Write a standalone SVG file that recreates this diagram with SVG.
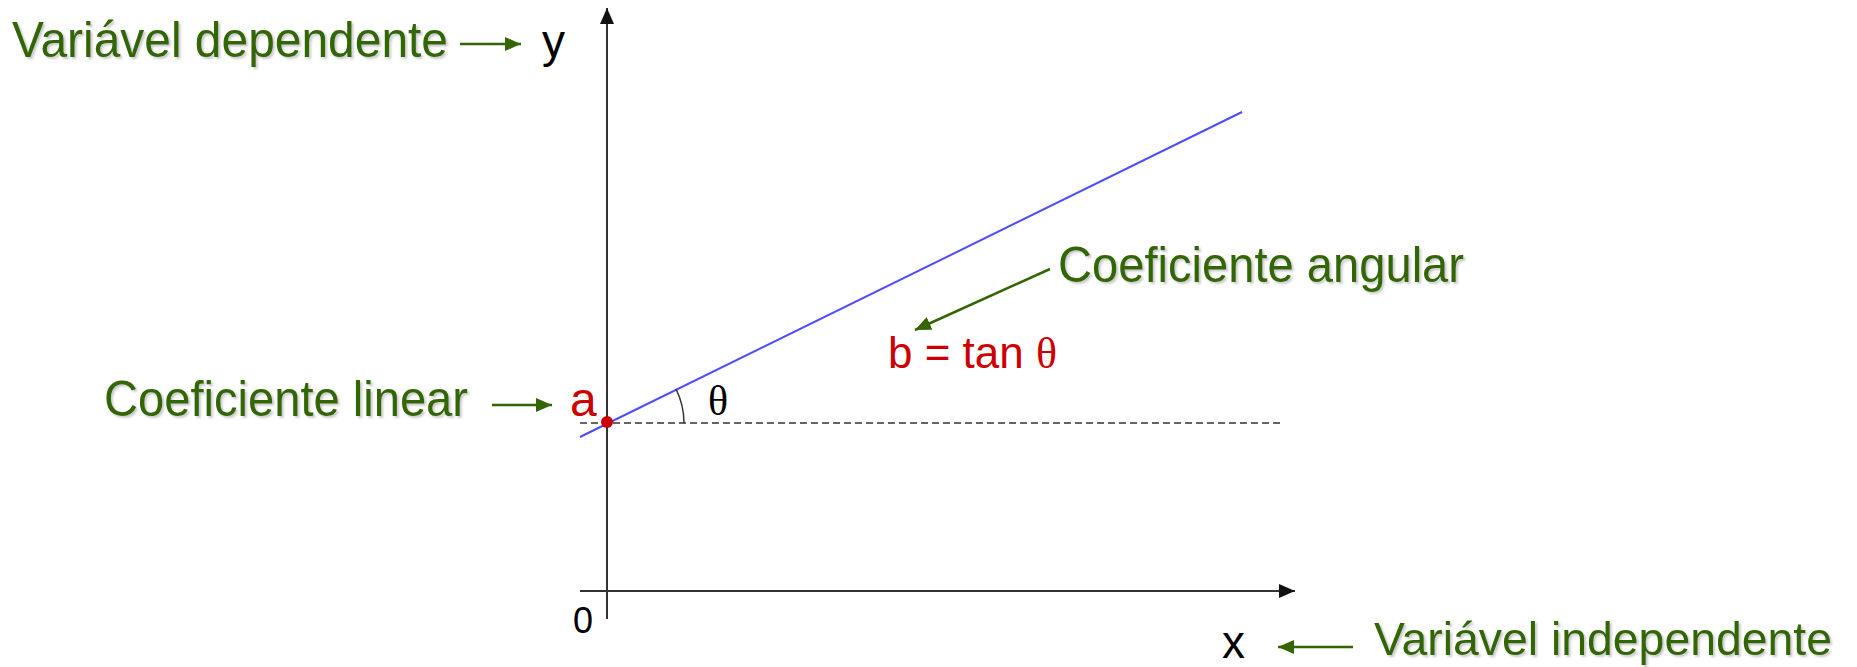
<svg xmlns="http://www.w3.org/2000/svg" width="1857" height="667" viewBox="0 0 1857 667">
<style>
.lbl{font-family:"Liberation Sans",Arial,sans-serif;font-size:50px;fill:#336600;filter:url(#sh)}
.var{font-family:"Liberation Sans",Arial,sans-serif;font-size:46px;fill:#000}
.red{font-family:"Liberation Sans",Arial,sans-serif;fill:#cc0000}
.axis{stroke:#333;stroke-width:2;fill:none}
.garrow{stroke:#336600;stroke-width:2.5;fill:none}
</style>
<defs>
<filter id="sh" x="-2%" y="-8%" width="104%" height="116%">
<feDropShadow dx="2" dy="2" stdDeviation="1" flood-color="#888" flood-opacity="0.45"/>
</filter>
<marker id="ah" viewBox="0 0 16 14" refX="16" refY="7" markerWidth="16" markerHeight="14" markerUnits="userSpaceOnUse" orient="auto">
<path d="M0,0 L16,7 L0,14 Z" fill="#111"/>
</marker>
<marker id="gh" viewBox="0 0 16 14" refX="16" refY="7" markerWidth="16" markerHeight="14" markerUnits="userSpaceOnUse" orient="auto">
<path d="M0,0 L16,7 L0,14 Z" fill="#336600"/>
</marker>
</defs>
<g id="connectors">
<line class="axis" x1="607" y1="619" x2="607" y2="8" marker-end="url(#ah)"/>
<line class="axis" x1="580" y1="591" x2="1295" y2="591" marker-end="url(#ah)"/>
<line x1="580" y1="423" x2="1281" y2="423" stroke="#333" stroke-width="1.5" stroke-dasharray="7 4"/>
<line x1="580" y1="437" x2="1242" y2="112" stroke="#4d4dff" stroke-width="2"/>
<path d="M676,389 A77,77 0 0 1 684,423" stroke="#333" stroke-width="1.5" fill="none"/>
<line class="garrow" x1="460" y1="44" x2="521" y2="44" marker-end="url(#gh)"/>
<line class="garrow" x1="492" y1="405" x2="552" y2="405" marker-end="url(#gh)"/>
<line class="garrow" x1="1353" y1="647" x2="1278" y2="647" marker-end="url(#gh)"/>
<line class="garrow" x1="1050" y1="269" x2="915" y2="330" marker-end="url(#gh)"/>
</g>
<g id="origin">
<circle cx="607" cy="422" r="6" fill="#cc0000"/>
<text x="573" y="633" font-family="Liberation Sans, Arial, sans-serif" font-size="36" fill="#000">0</text>
</g>
<g id="y-var">
<text class="var" x="542" y="57">y</text>
<text class="lbl" x="12" y="57" textLength="436" lengthAdjust="spacingAndGlyphs">Variável dependente</text>
</g>
<g id="x-var">
<text class="var" x="1222" y="658">x</text>
<text class="lbl" x="1374" y="655" font-size="47" style="font-size:47px" textLength="458" lengthAdjust="spacingAndGlyphs">Variável independente</text>
</g>
<g id="linear">
<text class="lbl" x="104" y="416" textLength="364" lengthAdjust="spacingAndGlyphs">Coeficiente linear</text>
<text class="red" x="570" y="416" font-size="48">a</text>
</g>
<g id="angular">
<text class="lbl" x="1058" y="282" textLength="406" lengthAdjust="spacingAndGlyphs">Coeficiente angular</text>
<text class="red" x="888" y="368" font-size="44">b = tan <tspan font-family="Liberation Serif, Times New Roman, serif">θ</tspan></text>
</g>
<g id="theta">
<text x="708" y="415" font-family="Liberation Serif, Times New Roman, serif" font-size="42" fill="#000">θ</text>
</g>
</svg>
